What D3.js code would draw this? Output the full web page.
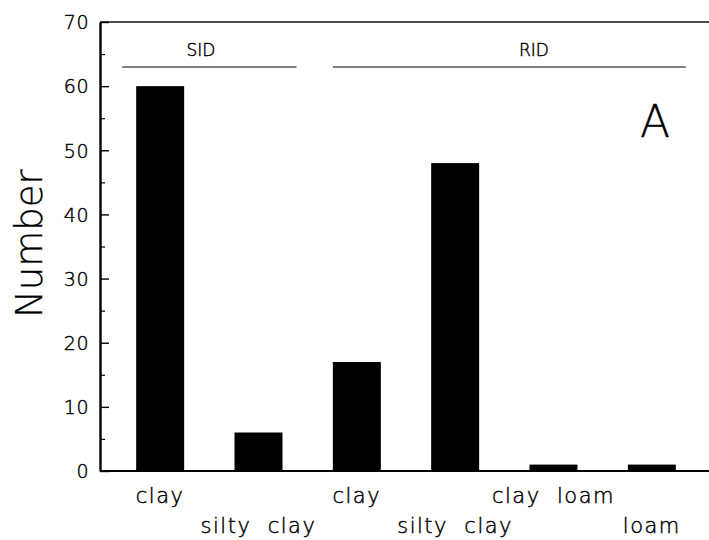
<!DOCTYPE html>
<html>
<head>
<meta charset="utf-8">
<script src="https://cdn.jsdelivr.net/npm/d3@7"></script>
<style>
  html, body { margin: 0; padding: 0; background: #fff; }
  svg { display: block; }
  text { font-family: "DejaVu Sans", "Liberation Sans", sans-serif; font-weight: 200; fill: #000; stroke: #000; stroke-width: 0.45px; }
</style>
</head>
<body>
<script>
// ---- data ----
const categories = ["clay", "silty  clay", "clay", "silty  clay", "clay  loam", "loam"];
const values = [60, 6, 17, 48, 1, 1];
const groups = ["SID", "RID"];
const groupStart = [0, 2];   // first category index of each group
const groupEnd = [1, 5];     // last category index of each group
const yTicks = [0, 10, 20, 30, 40, 50, 60, 70];
const yMinorTicks = [5, 15, 25, 35, 45, 55, 65];
const yLabel = "Number";
const panelLabel = "A";

(function () {
  const W = 709, H = 540;
  const mLeft = 100, mRight = 709, mTop = 22, mBottom = 471;

  const svg = d3.select("body").append("svg").attr("width", W).attr("height", H);

  const idx = categories.map((d, i) => i);
  const x = d3.scaleBand().domain(idx).range([111, 701]).paddingInner(0.512).paddingOuter(0.256);
  const y = d3.scaleLinear().domain([0, 70]).range([mBottom, mTop]);

  // bars
  svg.append("g").selectAll("rect").data(values).join("rect")
    .attr("x", (d, i) => x(i))
    .attr("y", d => y(d))
    .attr("width", x.bandwidth())
    .attr("height", d => y(0) - y(d))
    .attr("fill", "#000");

  // frame: top and bottom lines
  svg.append("line").attr("x1", mLeft).attr("x2", mRight).attr("y1", y(70)).attr("y2", y(70))
    .attr("stroke", "#111").attr("stroke-width", 1.6);
  svg.append("line").attr("x1", mLeft).attr("x2", mRight).attr("y1", y(0)).attr("y2", y(0))
    .attr("stroke", "#000").attr("stroke-width", 2);

  // y axis major
  const yAxis = svg.append("g").attr("transform", `translate(${mLeft},0)`)
    .call(d3.axisLeft(y).tickValues(yTicks).tickSizeInner(-9).tickSizeOuter(0).tickPadding(11).tickFormat(d3.format("d")));
  yAxis.select(".domain").attr("stroke", "#000").attr("stroke-width", 2.4);
  yAxis.selectAll(".tick line").attr("stroke", "#000").attr("stroke-width", 1.4);
  yAxis.selectAll(".tick text").style("font-size", "19px").style("letter-spacing", "0.5px")
    .attr("dy", "0.36em");

  // y axis minor
  const yMinor = svg.append("g").attr("transform", `translate(${mLeft},0)`)
    .call(d3.axisLeft(y).tickValues(yMinorTicks).tickSizeInner(-5).tickSizeOuter(0).tickFormat(""));
  yMinor.select(".domain").remove();
  yMinor.selectAll(".tick line").attr("stroke", "#000").attr("stroke-width", 1.2);

  // y label
  svg.append("text")
    .attr("transform", `translate(42,${(mTop + mBottom) / 2 - 3}) rotate(-90)`)
    .attr("text-anchor", "middle")
    .style("font-size", "37px")
    .style("stroke-width", "0.3px")
    .text(yLabel);

  // category labels (alternating rows)
  svg.append("g").selectAll("text").data(categories).join("text")
    .attr("x", (d, i) => x(i) + x.bandwidth() / 2)
    .attr("y", (d, i) => i % 2 === 0 ? mBottom + 32 : mBottom + 62)
    .attr("text-anchor", "middle")
    .attr("xml:space", "preserve")
    .style("white-space", "pre")
    .style("font-size", "21px")
    .style("letter-spacing", "1.5px")
    .text(d => d);

  // group lines and labels
  groups.forEach((g, k) => {
    const x1 = x(groupStart[k]) - (k === 0 ? 14 : 0);
    const x2 = x(groupEnd[k]) + x.bandwidth() + (k === 0 ? 14 : 10);
    svg.append("line")
      .attr("x1", x1).attr("x2", x2)
      .attr("y1", y(63)).attr("y2", y(63))
      .attr("stroke", "#555").attr("stroke-width", 1.5);
    svg.append("text")
      .attr("x", k === 0 ? 201 : 534)
      .attr("y", y(63) - 11)
      .attr("text-anchor", "middle")
      .style("font-size", "17px")
      .text(g);
  });

  // panel label
  svg.append("text")
    .attr("x", 655).attr("y", 137)
    .attr("text-anchor", "middle")
    .style("font-size", "44px")
    .style("stroke-width", "0.3px")
    .text(panelLabel);
})();
</script>
</body>
</html>
